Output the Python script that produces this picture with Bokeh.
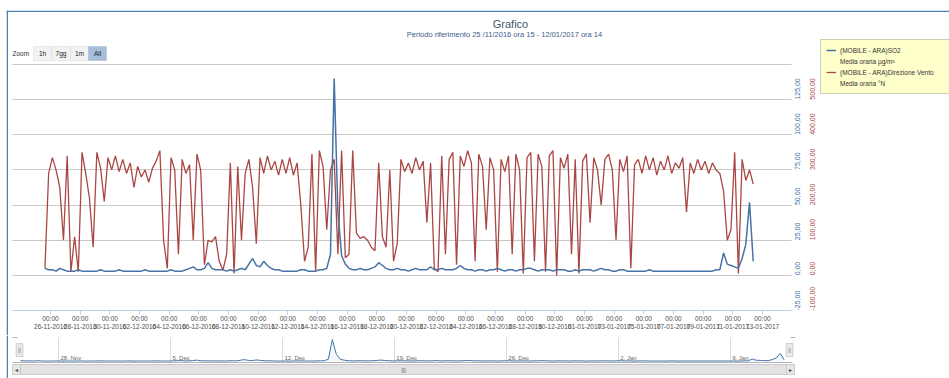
import pandas as pd
from bokeh.plotting import figure
from bokeh.layouts import column
from bokeh.models import (Range1d, LinearAxis, FixedTicker, DatetimeTickFormatter, Legend,
                          LegendItem, Label, BoxAnnotation, ColumnDataSource, Grid, Span)
from bokeh.core.properties import value
from bokeh.embed import file_html
from bokeh.resources import INLINE

# ---------------- data ----------------
START = "2016-11-25 15:00"
STEP = "6h"

so2 = [
    5, 4, 4, 3, 5, 4, 3, 3, 3, 4, 3, 3, 3, 3, 3, 4,
    3, 3, 3, 3, 4, 3, 3, 3, 3, 3, 3, 4, 3, 3, 3, 3,
    3, 3, 4, 3, 3, 3, 4, 5, 6, 4, 4, 5, 9, 5, 4, 4,
    4, 3, 4, 3, 4, 5, 4, 8, 12, 7, 6, 10, 7, 5, 4, 4,
    3, 3, 3, 3, 3, 4, 4, 3, 3, 3, 4, 4, 5, 15, 140, 45,
    14, 8, 5, 4, 4, 5, 4, 4, 5, 6, 9, 7, 5, 4, 4, 5,
    4, 4, 3, 4, 5, 4, 4, 4, 6, 4, 4, 5, 4, 4, 4, 5,
    7, 5, 4, 4, 3, 4, 4, 3, 4, 4, 5, 4, 3, 4, 4, 3,
    4, 4, 5, 5, 4, 3, 4, 4, 4, 3, 4, 4, 4, 3, 3, 4,
    3, 4, 4, 4, 3, 4, 5, 4, 4, 3, 3, 4, 4, 3, 3, 3,
    3, 3, 3, 4, 3, 3, 3, 3, 3, 3, 3, 3, 3, 3, 3, 3,
    3, 3, 3, 3, 3, 4, 4, 16, 8, 7, 6, 5, 12, 22, 52, 10,
]

wind_dir = [
    20, 290, 335, 300, 250, 100, 340, 10, 110, 10, 350, 290, 220, 80, 350, 305,
    210, 335, 300, 340, 295, 330, 290, 320, 250, 310, 280, 300, 265, 305, 325, 355,
    100, 20, 335, 300, 60, 330, 290, 315, 100, 345, 300, 30, 100, 95, 110, 40,
    15, 60, 320, 5, 310, 100, 290, 330, 250, 90, 335, 290, 340, 300, 325, 285,
    330, 290, 335, 285, 320, 200, 40, 80, 345, 10, 355, 310, 130, 300, 330, 60,
    355, 50, 60, 355, 120, 105, 110, 100, 80, 70, 320, 110, 80, 300, 40, 90,
    330, 295, 320, 290, 335, 300, 325, 150, 320, 20, 10, 340, 60, 330, 350, 30,
    340, 310, 355, 320, 40, 345, 310, 130, 335, 300, 10, 330, 295, 340, 60, 345,
    300, 5, 335, 350, 40, 345, 310, 10, 340, 355, 0, 335, 305, 345, 60, 330,
    5, 325, 345, 150, 335, 300, 200, 330, 345, 300, 100, 330, 295, 340, 20, 315,
    330, 290, 340, 300, 335, 285, 325, 300, 340, 290, 320, 305, 335, 180, 320, 290,
    330, 300, 325, 290, 320, 300, 290, 240, 100, 130, 350, 5, 330, 270, 300, 260,
]

so2_ticks = [-25, 0, 25, 50, 75, 100, 125]
so2_tick_labels = ["-25,00", "0,00", "25,00", "50,00", "75,00", "100,00", "125,00"]
dir_ticks = [-100, 0, 100, 200, 300, 400, 500]
dir_tick_labels = ["-100,00", "0,00", "100,00", "200,00", "300,00", "400,00", "500,00"]
grid_ticks = [0, 25, 50, 75, 100, 125, 150]

x_tick_dates = pd.date_range("2016-11-26", "2017-01-13", freq="2D")
nav_week_dates = pd.date_range("2016-11-28", "2017-01-09", freq="7D")
nav_week_labels = ["28. Nov", "5. Dec", "12. Dec", "19. Dec", "26. Dec", "2. Jan", "9. Jan"]

title_text = "Grafico"
subtitle_text = "Periodo riferimento 25 /11/2016 ora 15  - 12/01/2017 ora 14"
zoom_buttons = ["1h", "7gg", "1m", "All"]
legend_labels = ["(MOBILE - ARA)SO2", "Media oraria µg/m³",
                 "(MOBILE - ARA)Direzione Vento", "Media oraria °N"]

# ---------------- geometry (window px) ----------------
FONT = "Liberation Sans"
BLUE = "#4572A7"
RED = "#AA4643"
BORDER = "#4A7EBB"
W = 949
MAIN_H = 335
NAV_H = 378 - MAIN_H
FL = 6                        # frames start at the chart border
FTOP = 10                     # main frame starts at the top border
PL, PR, PT, PB = 12, 791, 64, 310   # plot area of the main chart
DAY_MS = 86400000.0

times = pd.date_range(START, periods=len(so2), freq=STEP)
src = ColumnDataSource(dict(t=times, so2=so2, wdir=wind_dir))


def ms(ts):
    return ts.value / 10**6


# main time scale: 26/11 00:00 at x=50, 13/01 00:00 at x=762
T0 = ms(pd.Timestamp("2016-11-26"))
main_px_day = (762 - 50) / 48.0


def tmain(x):
    return T0 + (x - 50) / main_px_day * DAY_MS


# main value scale: -25 at y=310, 150 at y=64
px_per_unit = (PB - PT) / 175.0


def vmain(y):
    return 150 - (y - PT) / px_per_unit


# ---------------- main chart ----------------
p = figure(width=W, height=MAIN_H, x_axis_type="datetime", title=None,
           x_range=Range1d(tmain(FL), tmain(W)),
           y_range=Range1d(vmain(MAIN_H), vmain(FTOP)), y_axis_location=None,
           toolbar_location=None, output_backend="svg",
           min_border_left=FL, min_border_right=0, min_border_top=FTOP, min_border_bottom=0)
p.outline_line_color = None
p.background_fill_color = "white"
p.border_fill_color = "white"
p.extra_y_ranges = {"dir": Range1d(4 * vmain(MAIN_H), 4 * vmain(FTOP))}

p.xgrid.visible = False
p.ygrid.ticker = FixedTicker(ticks=grid_ticks)
p.ygrid.grid_line_color = "#C8C8C8"
p.ygrid.grid_line_width = 1
p.ygrid.cross_bounds = (tmain(PL), tmain(PR))

fmt = "%H:%M\n%d-%m-%Y"
xa = p.xaxis[0]
xa.fixed_location = -25
xa.ticker = FixedTicker(ticks=[ms(t) for t in x_tick_dates])
xa.formatter = DatetimeTickFormatter(days=fmt, months=fmt, years=fmt, hours=fmt, hourmin=fmt,
                                     minutes=fmt, minsec=fmt, seconds=fmt)
xa.bounds = (tmain(PL), tmain(PR))
xa.axis_line_color = "#C0D0E0"
xa.major_tick_line_color = "#C0D0E0"
xa.major_tick_out = 4
xa.major_tick_in = 0
xa.minor_tick_line_color = None
xa.major_label_standoff = 0
xa.major_label_text_font = FONT
xa.major_label_text_font_size = "6.5px"
xa.major_label_text_color = "#4D4D4D"

ax_so2 = LinearAxis(ticker=FixedTicker(ticks=so2_ticks), fixed_location=tmain(795),
                    major_label_overrides=dict(zip(so2_ticks, so2_tick_labels)))
ax_dir = LinearAxis(y_range_name="dir", ticker=FixedTicker(ticks=dir_ticks),
                    fixed_location=tmain(810),
                    major_label_overrides=dict(zip(dir_ticks, dir_tick_labels)))
for ax, col in ((ax_so2, BLUE), (ax_dir, RED)):
    ax.axis_line_color = None
    ax.major_tick_line_color = None
    ax.minor_tick_line_color = None
    ax.major_tick_out = 0
    ax.major_tick_in = 0
    ax.major_label_orientation = 3.14159265 / 2
    ax.major_label_standoff = 2
    ax.major_label_text_font = FONT
    ax.major_label_text_font_size = "7px"
    ax.major_label_text_color = col
p.add_layout(ax_so2, "right")
p.add_layout(ax_dir, "right")

r_dir = p.line("t", "wdir", source=src, y_range_name="dir", line_color=RED, line_width=1.3)
r_so2 = p.line("t", "so2", source=src, line_color=BLUE, line_width=1.5)
r_blank = p.line(x=[], y=[], line_alpha=0)


def fx(x):
    return x - FL


def fy(y):
    return MAIN_H - y


legend = Legend(items=[LegendItem(label=legend_labels[0], renderers=[r_so2]),
                       LegendItem(label=legend_labels[1], renderers=[r_blank]),
                       LegendItem(label=legend_labels[2], renderers=[r_dir]),
                       LegendItem(label=legend_labels[3], renderers=[r_blank])],
                location=(fx(820), fy(94)),
                background_fill_color="#FFFFCC", background_fill_alpha=1,
                border_line_color="#A0A0A0", border_line_width=1,
                label_text_font=FONT, label_text_font_size="6.5px", label_text_color="#333333",
                glyph_width=10, glyph_height=10, label_height=10, label_standoff=4,
                label_width=140, spacing=1, padding=5, margin=0)
p.add_layout(legend, "center")


def box(fig, cx, cy, l, r, t, b, **kw):
    fig.add_layout(BoxAnnotation(left=cx(l), right=cx(r), top=cy(t), bottom=cy(b),
                                 left_units="screen", right_units="screen",
                                 top_units="screen", bottom_units="screen", **kw))


def label(fig, cx, cy, x, y, text, **kw):
    kw.setdefault("text_font", FONT)
    fig.add_layout(Label(x=cx(x), y=cy(y), x_units="screen", y_units="screen", text=text, **kw))


# chart border: left and top edges
p.add_layout(Span(location=fx(6.75), location_units="screen", dimension="height",
                  line_color=BORDER, line_width=1.5))
p.add_layout(Span(location=fy(10.75), location_units="screen", dimension="width",
                  line_color=BORDER, line_width=1.5))

label(p, fx, fy, 510, 23, title_text, text_align="center", text_baseline="middle",
      text_font_size="11px", text_color="#3E576F")
label(p, fx, fy, 505, 34, subtitle_text, text_align="center", text_baseline="middle",
      text_font_size="7.5px", text_color="#3E5A8A")

# range selector
label(p, fx, fy, 12, 53, "Zoom", text_align="left", text_baseline="middle",
      text_font_size="6.5px", text_color="#333333")
btn_edges = [33, 51, 70, 88, 106]
for i, txt in enumerate(zoom_buttons):
    active = txt == "All"
    box(p, fx, fy, btn_edges[i], btn_edges[i + 1], 46, 60,
        fill_color="#A7BEDB" if active else "#F2F2F2", fill_alpha=1,
        line_color="#8FA6C4" if active else "#C4C4C4", line_width=1)
    label(p, fx, fy, (btn_edges[i] + btn_edges[i + 1]) / 2, 53, txt, text_align="center",
          text_baseline="middle", text_font_size="6.5px", text_color="#222222")

# ---------------- navigator ----------------
NAV_L, NAV_R = 20, 787            # data extent in the navigator (window px)
T_START = ms(times[0])
T_END = ms(pd.Timestamp("2017-01-12 14:00"))
nav_px_ms = (NAV_R - NAV_L) / (T_END - T_START)


def tnav(x):
    return T_START + (x - NAV_L) / nav_px_ms


nav_px_per_unit = (361 - 339) / 140.0


def vnav(y):
    return (361 - y) / nav_px_per_unit


p2 = figure(width=W, height=NAV_H, x_axis_type="datetime", title=None,
            x_range=Range1d(tnav(FL), tnav(W)),
            y_range=Range1d(vnav(378), vnav(MAIN_H)), x_axis_location=None,
            y_axis_location=None, toolbar_location=None, output_backend="svg",
            min_border_left=FL, min_border_right=0, min_border_top=0, min_border_bottom=0)
p2.outline_line_color = None
p2.background_fill_color = "white"
p2.border_fill_color = "white"
p2.grid.visible = False
p2.add_layout(Grid(dimension=0, ticker=FixedTicker(ticks=[ms(t) for t in nav_week_dates]),
                   grid_line_color="#DDDDDD", grid_line_width=1,
                   cross_bounds=(vnav(362), vnav(337))))

p2.varea(x="t", y1=0, y2="so2", source=src, fill_color=BLUE, fill_alpha=0.06)
p2.line("t", "so2", source=src, line_color=BLUE, line_width=1)
p2.text(x=[ms(t) for t in nav_week_dates], y=0, text=nav_week_labels,
        text_font=value(FONT), text_font_size="6px", text_color="#666666",
        text_align="left", text_baseline="bottom", x_offset=2, y_offset=-1)


def nfx(x):
    return x - FL


def nfy(y):
    return 378 - y


# chart border continues on the left
p2.add_layout(Span(location=nfx(6.75), location_units="screen", dimension="height",
                   line_color=BORDER, line_width=1.5))
# navigator bottom outline and corner pieces
box(p2, nfx, nfy, 12, 792, 361.5, 362.5, fill_color="#B2B1B6", fill_alpha=1, line_alpha=0)
box(p2, nfx, nfy, 12, 17, 336.5, 337.5, fill_color="#B2B1B6", fill_alpha=1, line_alpha=0)
box(p2, nfx, nfy, 790, 795, 336.5, 337.5, fill_color="#B2B1B6", fill_alpha=1, line_alpha=0)

# scrollbar
box(p2, nfx, nfy, 12, 794, 364, 374, fill_color="#EEEEEE", fill_alpha=1,
    line_color="#BBBBBB", line_width=1)
box(p2, nfx, nfy, 20, 786, 364, 374, fill_color="#E2E2E2", fill_alpha=1,
    line_color="#999999", line_width=1)
box(p2, nfx, nfy, 12, 20, 364, 374, fill_color="#E6E6E6", fill_alpha=1,
    line_color="#999999", line_width=1)
box(p2, nfx, nfy, 786, 794, 364, 374, fill_color="#E6E6E6", fill_alpha=1,
    line_color="#999999", line_width=1)
label(p2, nfx, nfy, 16, 369, "◂", text_align="center", text_baseline="middle",
      text_font_size="6px", text_color="#444444", text_font="DejaVu Sans")
label(p2, nfx, nfy, 790, 369, "▸", text_align="center", text_baseline="middle",
      text_font_size="6px", text_color="#444444", text_font="DejaVu Sans")
label(p2, nfx, nfy, 403, 369, "|||", text_align="center", text_baseline="middle",
      text_font_size="6px", text_color="#555555")

# handles
for hx in (NAV_L - 1, NAV_R + 2):
    box(p2, nfx, nfy, hx - 3.5, hx + 3.5, 343, 356, fill_color="#EBE7E8", fill_alpha=1,
        line_color="#888888", line_width=1)
    label(p2, nfx, nfy, hx, 349.5, "||", text_align="center", text_baseline="middle",
          text_font_size="5px", text_color="#666666")

layout = column(p, p2, spacing=0)
open("out.html", "w").write(file_html(layout, INLINE))
